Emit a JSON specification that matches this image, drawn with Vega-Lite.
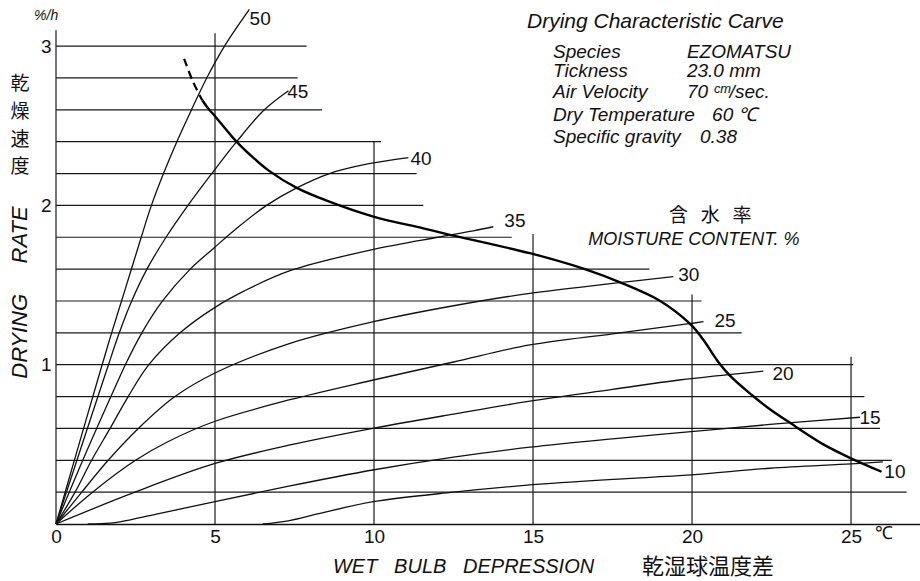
{
  "$schema": "https://vega.github.io/schema/vega-lite/v6.json",
  "width": 865,
  "height": 524,
  "autosize": {"type": "none"},
  "padding": {"left": 56, "top": 0, "right": 0, "bottom": 57},
  "background": "white",
  "config": {"view": {"stroke": null}, "font": "Liberation Sans"},
  "datasets": {
    "hlines": [
      {"y": 3.0, "x": 0, "x2": 7.88},
      {"y": 2.8, "x": 0, "x2": 7.6},
      {"y": 2.6, "x": 0, "x2": 8.37},
      {"y": 2.4, "x": 0, "x2": 10.22},
      {"y": 2.2, "x": 0, "x2": 11.34},
      {"y": 2.0, "x": 0, "x2": 11.55},
      {"y": 1.8, "x": 0, "x2": 14.33},
      {"y": 1.6, "x": 0, "x2": 18.66},
      {"y": 1.4, "x": 0, "x2": 20.3},
      {"y": 1.2, "x": 0, "x2": 21.56},
      {"y": 1.0, "x": 0, "x2": 25.07},
      {"y": 0.8, "x": 0, "x2": 25.42},
      {"y": 0.6, "x": 0, "x2": 25.91},
      {"y": 0.4, "x": 0, "x2": 26.28},
      {"y": 0.2, "x": 0, "x2": 26.75}
    ],
    "vlines": [
      {"x": 0, "y": 0, "y2": 3.1},
      {"x": 5, "y": 0, "y2": 3.08},
      {"x": 10, "y": 0, "y2": 2.4},
      {"x": 15, "y": 0, "y2": 1.82},
      {"x": 20, "y": 0, "y2": 1.44},
      {"x": 25, "y": 0, "y2": 1.05}
    ],
    "curves": [
      {"mc": "50", "x": 0, "y": 0},
      {"mc": "50", "x": 0.65, "y": 0.45},
      {"mc": "50", "x": 1.31, "y": 0.904},
      {"mc": "50", "x": 1.75, "y": 1.2},
      {"mc": "50", "x": 2.17, "y": 1.47},
      {"mc": "50", "x": 2.68, "y": 1.8},
      {"mc": "50", "x": 3.0, "y": 2.0},
      {"mc": "50", "x": 3.38, "y": 2.2},
      {"mc": "50", "x": 3.8, "y": 2.4},
      {"mc": "50", "x": 4.26, "y": 2.6},
      {"mc": "50", "x": 4.74, "y": 2.8},
      {"mc": "50", "x": 5.3, "y": 3.0},
      {"mc": "50", "x": 6.08, "y": 3.23},
      {"mc": "45", "x": 0, "y": 0},
      {"mc": "45", "x": 0.74, "y": 0.45},
      {"mc": "45", "x": 1.49, "y": 0.904},
      {"mc": "45", "x": 1.65, "y": 1.0},
      {"mc": "45", "x": 1.99, "y": 1.2},
      {"mc": "45", "x": 2.38, "y": 1.4},
      {"mc": "45", "x": 2.86, "y": 1.6},
      {"mc": "45", "x": 3.46, "y": 1.8},
      {"mc": "45", "x": 4.15, "y": 2.0},
      {"mc": "45", "x": 4.9, "y": 2.2},
      {"mc": "45", "x": 5.68, "y": 2.4},
      {"mc": "45", "x": 6.55, "y": 2.6},
      {"mc": "45", "x": 7.31, "y": 2.72},
      {"mc": "40", "x": 0, "y": 0},
      {"mc": "40", "x": 0.95, "y": 0.45},
      {"mc": "40", "x": 1.96, "y": 0.904},
      {"mc": "40", "x": 2.18, "y": 1.0},
      {"mc": "40", "x": 2.7, "y": 1.2},
      {"mc": "40", "x": 3.35, "y": 1.4},
      {"mc": "40", "x": 4.22, "y": 1.6},
      {"mc": "40", "x": 4.95, "y": 1.73},
      {"mc": "40", "x": 5.62, "y": 1.846},
      {"mc": "40", "x": 6.62, "y": 2.0},
      {"mc": "40", "x": 7.57, "y": 2.11},
      {"mc": "40", "x": 8.6, "y": 2.2},
      {"mc": "40", "x": 9.8, "y": 2.26},
      {"mc": "40", "x": 11.08, "y": 2.3},
      {"mc": "35", "x": 0, "y": 0},
      {"mc": "35", "x": 0.6, "y": 0.2},
      {"mc": "35", "x": 1.12, "y": 0.4},
      {"mc": "35", "x": 1.7, "y": 0.6},
      {"mc": "35", "x": 2.27, "y": 0.8},
      {"mc": "35", "x": 2.92, "y": 1.0},
      {"mc": "35", "x": 3.9, "y": 1.2},
      {"mc": "35", "x": 5.0, "y": 1.36},
      {"mc": "35", "x": 5.94, "y": 1.465},
      {"mc": "35", "x": 7.36, "y": 1.59},
      {"mc": "35", "x": 9.98, "y": 1.724},
      {"mc": "35", "x": 12.0, "y": 1.8},
      {"mc": "35", "x": 13.12, "y": 1.84},
      {"mc": "35", "x": 13.75, "y": 1.866},
      {"mc": "30", "x": 0, "y": 0},
      {"mc": "30", "x": 0.81, "y": 0.2},
      {"mc": "30", "x": 1.64, "y": 0.4},
      {"mc": "30", "x": 2.59, "y": 0.6},
      {"mc": "30", "x": 3.74, "y": 0.8},
      {"mc": "30", "x": 5.0, "y": 0.948},
      {"mc": "30", "x": 7.36, "y": 1.134},
      {"mc": "30", "x": 9.98, "y": 1.27},
      {"mc": "30", "x": 12.5, "y": 1.37},
      {"mc": "30", "x": 14.9, "y": 1.448},
      {"mc": "30", "x": 17.5, "y": 1.51},
      {"mc": "30", "x": 19.41, "y": 1.553},
      {"mc": "25", "x": 0, "y": 0},
      {"mc": "25", "x": 1.15, "y": 0.2},
      {"mc": "25", "x": 2.5, "y": 0.4},
      {"mc": "25", "x": 3.5, "y": 0.515},
      {"mc": "25", "x": 5.0, "y": 0.645},
      {"mc": "25", "x": 7.36, "y": 0.78},
      {"mc": "25", "x": 9.98, "y": 0.904},
      {"mc": "25", "x": 12.5, "y": 1.017},
      {"mc": "25", "x": 14.9, "y": 1.124},
      {"mc": "25", "x": 17.5, "y": 1.194},
      {"mc": "25", "x": 19.97, "y": 1.259},
      {"mc": "25", "x": 20.36, "y": 1.27},
      {"mc": "20", "x": 0, "y": 0},
      {"mc": "20", "x": 2.48, "y": 0.2},
      {"mc": "20", "x": 5.0, "y": 0.38},
      {"mc": "20", "x": 7.36, "y": 0.496},
      {"mc": "20", "x": 9.96, "y": 0.6},
      {"mc": "20", "x": 12.5, "y": 0.69},
      {"mc": "20", "x": 14.9, "y": 0.771},
      {"mc": "20", "x": 17.5, "y": 0.845},
      {"mc": "20", "x": 19.6, "y": 0.904},
      {"mc": "20", "x": 22.24, "y": 0.96},
      {"mc": "15", "x": 1.0, "y": 0},
      {"mc": "15", "x": 1.7, "y": 0.005},
      {"mc": "15", "x": 2.3, "y": 0.025},
      {"mc": "15", "x": 3.27, "y": 0.067},
      {"mc": "15", "x": 5.0, "y": 0.14},
      {"mc": "15", "x": 7.36, "y": 0.239},
      {"mc": "15", "x": 9.96, "y": 0.339},
      {"mc": "15", "x": 12.5, "y": 0.42},
      {"mc": "15", "x": 14.9, "y": 0.482},
      {"mc": "15", "x": 17.5, "y": 0.535},
      {"mc": "15", "x": 19.97, "y": 0.58},
      {"mc": "15", "x": 22.45, "y": 0.625},
      {"mc": "15", "x": 25.28, "y": 0.67},
      {"mc": "10", "x": 6.5, "y": 0},
      {"mc": "10", "x": 7.3, "y": 0.02},
      {"mc": "10", "x": 8.3, "y": 0.067},
      {"mc": "10", "x": 9.98, "y": 0.14},
      {"mc": "10", "x": 12.5, "y": 0.2},
      {"mc": "10", "x": 14.9, "y": 0.245},
      {"mc": "10", "x": 17.5, "y": 0.28},
      {"mc": "10", "x": 19.97, "y": 0.308},
      {"mc": "10", "x": 22.45, "y": 0.35},
      {"mc": "10", "x": 25.0, "y": 0.377},
      {"mc": "10", "x": 26.0, "y": 0.39}
    ],
    "heavy": [
      {"part": "dashed", "x": 4.03, "y": 2.92},
      {"part": "dashed", "x": 4.3, "y": 2.78},
      {"part": "dashed", "x": 4.6, "y": 2.66},
      {"part": "solid", "x": 4.6, "y": 2.66},
      {"part": "solid", "x": 4.8, "y": 2.605},
      {"part": "solid", "x": 5.0, "y": 2.56},
      {"part": "solid", "x": 5.63, "y": 2.41},
      {"part": "solid", "x": 6.2, "y": 2.3},
      {"part": "solid", "x": 6.68, "y": 2.22},
      {"part": "solid", "x": 7.57, "y": 2.11},
      {"part": "solid", "x": 8.51, "y": 2.03},
      {"part": "solid", "x": 9.98, "y": 1.93},
      {"part": "solid", "x": 11.55, "y": 1.856},
      {"part": "solid", "x": 12.29, "y": 1.82},
      {"part": "solid", "x": 14.9, "y": 1.7},
      {"part": "solid", "x": 16.63, "y": 1.6},
      {"part": "solid", "x": 17.74, "y": 1.517},
      {"part": "solid", "x": 19.0, "y": 1.4},
      {"part": "solid", "x": 19.97, "y": 1.25},
      {"part": "solid", "x": 20.36, "y": 1.155},
      {"part": "solid", "x": 20.78, "y": 1.03},
      {"part": "solid", "x": 21.2, "y": 0.93},
      {"part": "solid", "x": 21.88, "y": 0.81},
      {"part": "solid", "x": 22.45, "y": 0.72},
      {"part": "solid", "x": 23.08, "y": 0.635},
      {"part": "solid", "x": 24.13, "y": 0.5},
      {"part": "solid", "x": 25.0, "y": 0.412},
      {"part": "solid", "x": 25.96, "y": 0.328}
    ],
    "labels": [
      {"k": "curve", "t": "50", "x": 6.42, "y": 3.17},
      {"k": "curve", "t": "45", "x": 7.6, "y": 2.71},
      {"k": "curve", "t": "40", "x": 11.48, "y": 2.29},
      {"k": "curve", "t": "35", "x": 14.43, "y": 1.9},
      {"k": "curve", "t": "30", "x": 19.9, "y": 1.563},
      {"k": "curve", "t": "25", "x": 21.04, "y": 1.274},
      {"k": "curve", "t": "20", "x": 22.86, "y": 0.94},
      {"k": "curve", "t": "15", "x": 25.6, "y": 0.665},
      {"k": "curve", "t": "10", "x": 26.38, "y": 0.327},
      {"k": "head", "t": "Drying Characteristic Carve", "x": 14.81, "y": 3.151},
      {"k": "info", "t": "Species", "x": 15.63, "y": 2.963},
      {"k": "info", "t": "EZOMATSU", "x": 19.84, "y": 2.963},
      {"k": "info", "t": "Tickness", "x": 15.63, "y": 2.844},
      {"k": "info", "t": "23.0 mm", "x": 19.84, "y": 2.844},
      {"k": "info", "t": "Air Velocity", "x": 15.63, "y": 2.712},
      {"k": "info", "t": "70 ᶜᵐ/sec.", "x": 19.84, "y": 2.712},
      {"k": "info", "t": "Dry Temperature", "x": 15.63, "y": 2.567},
      {"k": "info", "t": "60 ℃", "x": 20.63, "y": 2.567},
      {"k": "info", "t": "Specific gravity", "x": 15.63, "y": 2.429},
      {"k": "info", "t": "0.38", "x": 20.25, "y": 2.429},
      {"k": "moist", "t": "MOISTURE CONTENT. %", "x": 20.06, "y": 1.783},
      {"k": "cjkc", "t": "含\u00a0\u00a0\u00a0水\u00a0\u00a0\u00a0率", "x": 20.57, "y": 1.933},
      {"k": "cjkl", "t": "乾湿球温度差", "x": 18.43, "y": -0.27},
      {"k": "xtitle", "t": "WET\u00a0\u00a0\u00a0BULB\u00a0\u00a0\u00a0DEPRESSION", "x": 8.71, "y": -0.27},
      {"k": "cjkc", "t": "乾", "x": -1.13, "y": 2.762},
      {"k": "cjkc", "t": "燥", "x": -1.13, "y": 2.586},
      {"k": "cjkc", "t": "速", "x": -1.13, "y": 2.411},
      {"k": "cjkc", "t": "度", "x": -1.13, "y": 2.241},
      {"k": "ytitle", "t": "DRYING\u00a0\u00a0\u00a0\u00a0\u00a0RATE", "x": -1.13, "y": 1.453},
      {"k": "unit", "t": "℃", "x": 26.04, "y": -0.063},
      {"k": "punit", "t": "%/h", "x": -0.31, "y": 3.19}
    ]
  },
  "encoding": {
    "x": {
      "field": "x",
      "type": "quantitative",
      "scale": {"domain": [0, 27.2], "nice": false, "zero": false},
      "axis": {
        "values": [0, 5, 10, 15, 20, 25],
        "title": null,
        "ticks": false,
        "grid": false,
        "domain": true,
        "domainColor": "#111",
        "domainWidth": 1.3,
        "labelFlush": false,
        "labelFont": "Liberation Sans",
        "labelFontSize": 19,
        "labelColor": "#111",
        "labelPadding": 3
      }
    },
    "y": {
      "field": "y",
      "type": "quantitative",
      "scale": {"domain": [0, 3.2894], "nice": false, "zero": false},
      "axis": {
        "values": [1, 2, 3],
        "title": null,
        "ticks": false,
        "grid": false,
        "domain": false,
        "labelFlush": false,
        "labelFont": "Liberation Sans",
        "labelFontSize": 19,
        "labelColor": "#111",
        "labelPadding": 5
      }
    }
  },
  "layer": [
    {
      "data": {"name": "hlines"},
      "mark": {"type": "rule", "color": "#1a1a1a", "strokeWidth": 1.2},
      "encoding": {"x2": {"field": "x2"}}
    },
    {
      "data": {"name": "vlines"},
      "mark": {"type": "rule", "color": "#1a1a1a", "strokeWidth": 1.2},
      "encoding": {"y2": {"field": "y2"}}
    },
    {
      "data": {"name": "curves"},
      "mark": {"type": "line", "interpolate": "catmull-rom", "color": "#111", "strokeWidth": 1.3},
      "encoding": {"detail": {"field": "mc", "type": "nominal"}}
    },
    {
      "data": {"name": "heavy"},
      "transform": [{"filter": "datum.part === 'solid'"}],
      "mark": {"type": "line", "interpolate": "catmull-rom", "color": "#000", "strokeWidth": 2.4},
      "encoding": {}
    },
    {
      "data": {"name": "heavy"},
      "transform": [{"filter": "datum.part === 'dashed'"}],
      "mark": {"type": "line", "interpolate": "catmull-rom", "color": "#000", "strokeWidth": 2.2, "strokeDash": [8, 5]},
      "encoding": {}
    },
    {
      "data": {"name": "labels"},
      "transform": [{"filter": "datum.k === 'curve'"}],
      "mark": {"type": "text", "align": "center", "baseline": "middle", "font": "Liberation Sans", "fontSize": 19, "color": "#111"},
      "encoding": {"text": {"field": "t", "type": "nominal"}}
    },
    {
      "data": {"name": "labels"},
      "transform": [{"filter": "datum.k === 'head'"}],
      "mark": {"type": "text", "align": "left", "baseline": "middle", "font": "Liberation Sans", "fontStyle": "italic", "fontSize": 21, "color": "#111"},
      "encoding": {"text": {"field": "t", "type": "nominal"}}
    },
    {
      "data": {"name": "labels"},
      "transform": [{"filter": "datum.k === 'info'"}],
      "mark": {"type": "text", "align": "left", "baseline": "middle", "font": "Liberation Sans", "fontStyle": "italic", "fontSize": 19, "color": "#111"},
      "encoding": {"text": {"field": "t", "type": "nominal"}}
    },
    {
      "data": {"name": "labels"},
      "transform": [{"filter": "datum.k === 'moist'"}],
      "mark": {"type": "text", "align": "center", "baseline": "middle", "font": "Liberation Sans", "fontStyle": "italic", "fontSize": 18, "color": "#111"},
      "encoding": {"text": {"field": "t", "type": "nominal"}}
    },
    {
      "data": {"name": "labels"},
      "transform": [{"filter": "datum.k === 'cjkc'"}],
      "mark": {"type": "text", "align": "center", "baseline": "middle", "font": "Noto Sans CJK JP", "fontSize": 19, "color": "#111"},
      "encoding": {"text": {"field": "t", "type": "nominal"}}
    },
    {
      "data": {"name": "labels"},
      "transform": [{"filter": "datum.k === 'cjkl'"}],
      "mark": {"type": "text", "align": "left", "baseline": "middle", "font": "Noto Sans CJK JP", "fontSize": 22, "color": "#111"},
      "encoding": {"text": {"field": "t", "type": "nominal"}}
    },
    {
      "data": {"name": "labels"},
      "transform": [{"filter": "datum.k === 'xtitle'"}],
      "mark": {"type": "text", "align": "left", "baseline": "middle", "font": "Liberation Sans", "fontStyle": "italic", "fontSize": 20, "color": "#111"},
      "encoding": {"text": {"field": "t", "type": "nominal"}}
    },
    {
      "data": {"name": "labels"},
      "transform": [{"filter": "datum.k === 'ytitle'"}],
      "mark": {"type": "text", "align": "center", "baseline": "middle", "angle": 270, "font": "Liberation Sans", "fontStyle": "italic", "fontSize": 22, "color": "#111"},
      "encoding": {"text": {"field": "t", "type": "nominal"}}
    },
    {
      "data": {"name": "labels"},
      "transform": [{"filter": "datum.k === 'unit'"}],
      "mark": {"type": "text", "align": "center", "baseline": "middle", "font": "Liberation Sans", "fontSize": 18, "color": "#111"},
      "encoding": {"text": {"field": "t", "type": "nominal"}}
    },
    {
      "data": {"name": "labels"},
      "transform": [{"filter": "datum.k === 'punit'"}],
      "mark": {"type": "text", "align": "center", "baseline": "middle", "font": "Liberation Sans", "fontStyle": "italic", "fontSize": 14, "color": "#111"},
      "encoding": {"text": {"field": "t", "type": "nominal"}}
    }
  ]
}
